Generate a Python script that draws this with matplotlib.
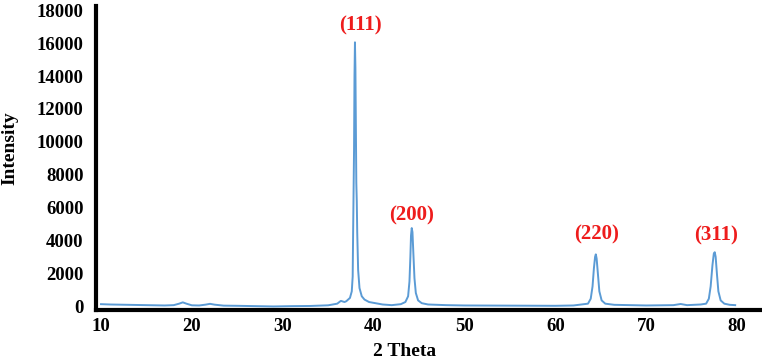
import matplotlib
matplotlib.use('Agg')
import matplotlib.pyplot as plt

plt.rcParams['font.family'] = 'Liberation Serif'
plt.rcParams['font.weight'] = 'bold'

# XRD pattern (2 theta, intensity)
two_theta = [10.0, 11.0, 12.0, 13.0, 14.0, 15.0, 16.0, 17.0, 18.0, 18.6, 19.0, 19.4,
             20.0, 20.8, 21.5, 22.0, 22.5, 23.5, 25.0, 27.0, 29.0, 31.0, 33.0, 35.0,
             36.0, 36.4, 36.8, 37.0, 37.4, 37.6, 37.7, 37.75, 37.8, 37.85, 37.9, 37.95,
             38.0, 38.05, 38.1, 38.15, 38.2, 38.3, 38.45, 38.7, 39.0, 39.5, 40.0, 41.0,
             42.0, 43.0, 43.5, 43.8, 43.95, 44.05, 44.12, 44.2, 44.28, 44.38, 44.5, 44.65,
             44.9, 45.3, 46.0, 48.0, 50.0, 55.0, 60.0, 62.0, 63.6, 63.9, 64.1, 64.25,
             64.38, 64.46, 64.55, 64.7, 64.85, 65.1, 65.5, 66.5, 70.0, 73.0, 73.8, 74.5,
             76.0, 76.6, 76.9, 77.1, 77.3, 77.45, 77.55, 77.65, 77.8, 77.95, 78.2, 78.6,
             79.2, 79.8]
intensity = [120, 100, 90, 80, 70, 60, 50, 40, 60, 150, 230, 150,
             50, 40, 90, 140, 90, 30, 20, 0, -20, 0, 10, 50,
             150, 320, 250, 300, 500, 900, 1800, 4500, 7000, 9500, 14000, 16050,
             14500, 11000, 7500, 6400, 4500, 2200, 1100, 600, 400, 250, 200, 100,
             60, 120, 250, 600, 1500, 3000, 4300, 4750, 4500, 3200, 1700, 800,
             350, 180, 100, 60, 40, 30, 20, 40, 150, 450, 1200, 2300,
             3000, 3150, 2900, 1900, 900, 350, 150, 80, 40, 60, 130, 60,
             100, 150, 450, 1200, 2500, 3200, 3280, 3000, 1900, 900, 350, 150,
             80, 60]

peak_labels = ['(111)', '(200)', '(220)', '(311)']
peak_label_x = [38.5, 44.2, 64.5, 77.65]
peak_label_y = [17090, 5535, 4380, 4320]

fig = plt.figure(figsize=(7.62, 3.64), dpi=100)
ax = fig.add_axes([0.126, 0.148, 0.871, 0.835])

ax.plot(two_theta, intensity, color='#5b9bd5', linewidth=1.4)

for lab, lx, ly in zip(peak_labels, peak_label_x, peak_label_y):
    ax.text(lx, ly, lab, color='#ee1c1c', fontsize=15, fontweight='bold',
            ha='center', va='center')

ax.set_xlim(9.45, 82.5)
ax.set_ylim(-243, 18248)
ax.set_xticks(range(10, 90, 10))
ax.set_yticks(range(0, 20000, 2000))

for side in ['top', 'right']:
    ax.spines[side].set_visible(False)
for side in ['left', 'bottom']:
    ax.spines[side].set_linewidth(3)
    ax.spines[side].set_color('black')

ax.tick_params(axis='both', length=0, labelsize=13.5)
ax.tick_params(axis='y', pad=9)
ax.tick_params(axis='x', pad=6)
for lbl in ax.get_xticklabels() + ax.get_yticklabels():
    lbl.set_fontweight('bold')

ax.set_xlabel('2 Theta', fontsize=14, fontweight='bold')
ax.set_ylabel('Intensity', fontsize=14, fontweight='bold')
ax.xaxis.set_label_coords(0.465, -0.109)
ax.yaxis.set_label_coords(-0.117, 0.533)

fig.savefig('out.png', dpi=100)
